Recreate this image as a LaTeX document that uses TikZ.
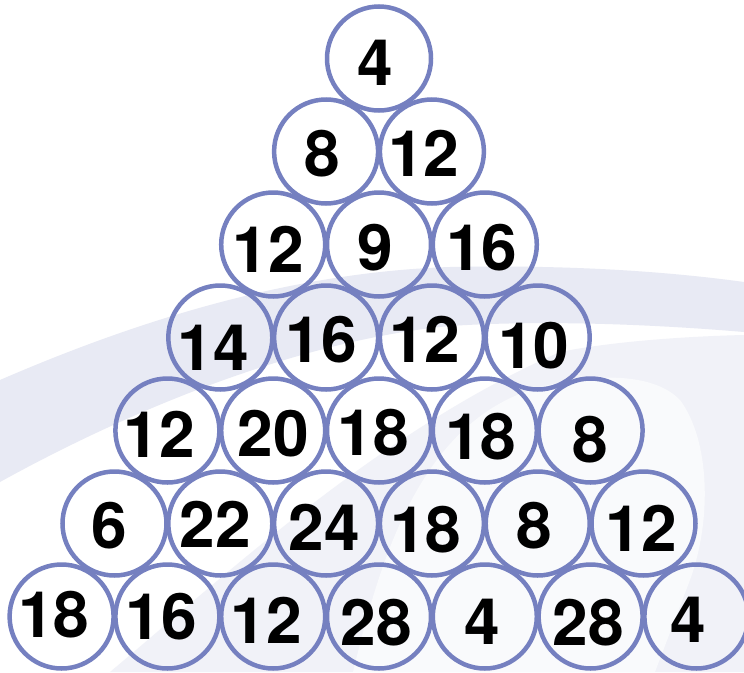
\documentclass[tikz,border=0pt]{standalone}
\usepackage{fontspec}
\setmainfont{TeX Gyre Heros}
\definecolor{ballblue}{HTML}{7580C0}
\definecolor{swooshA}{HTML}{E8EAF4}
\definecolor{swooshB}{HTML}{F1F2F8}
\definecolor{swooshC}{HTML}{F9FAFC}
\tikzset{
  ball/.style={circle, draw=ballblue, line width=4.5pt, minimum size=104pt, inner sep=0pt},
  numlab/.style={inner sep=0pt, font=\fontsize{64}{64}\selectfont\bfseries}
}
\begin{document}
\begin{tikzpicture}[x=1pt,y=-1pt]
\useasboundingbox (0,0) rectangle (744,672);
\fill[white] (0,0) rectangle (744,672);
% background swoosh
\fill[swooshB] (110,672) .. controls (220,580) and (380,430) .. (560,352)
  .. controls (620,340) and (700,336) .. (744,335) -- (744,672) -- cycle;
\fill[swooshC] (353,672) .. controls (380,560) and (420,420) .. (540,387)
  .. controls (600,372) and (655,374) .. (680,400)
  .. controls (710,440) and (712,520) .. (690,580) -- (655,672) -- cycle;
\fill[swooshA] (0,380) .. controls (150,315) and (300,272) .. (450,267)
  .. controls (600,264) and (700,276) .. (744,282) -- (744,332)
  .. controls (650,324) and (540,320) .. (450,326)
  .. controls (300,340) and (130,410) .. (0,482) -- cycle;
% balls, row by row: number/dx/dy
\foreach \r/\vals in {0/{4/-4/-4},
  1/{8/-4/-2, 12/-8/-2},
  2/{12/-5/-5, 9/-4/-3, 16/-3/-3},
  3/{14/-7/-10, 16/-5/-2, 12/-7/-2, 10/-4/-8},
  4/{12/-8/-3.5, 20/0/-3.5, 18/-5.5/-2.5, 18/-4/-6.5, 8/0/-9},
  5/{6/-5/-2.5, 22/-5/-0.5, 24/-2/-3.5, 18/-6/-6.5, 8/-3/-2.5, 12/-2/-4.5},
  6/{18/-8/2, 16/-6/0, 12/-7/-4, 28/-2.5/-6, 4/-3/-5, 28/-2.5/-6, 4/-8/-3}}{
  \foreach \v/\dx/\dy [count=\k from 0] in \vals{
    \node[ball, label={[numlab, xshift=\dx, yshift=\dy]center:\v}]
      (b\r-\k) at ({379+(\k-\r/2)*105.8},{58.5+\r*93}) {};
  }
}
\end{tikzpicture}
\end{document}
